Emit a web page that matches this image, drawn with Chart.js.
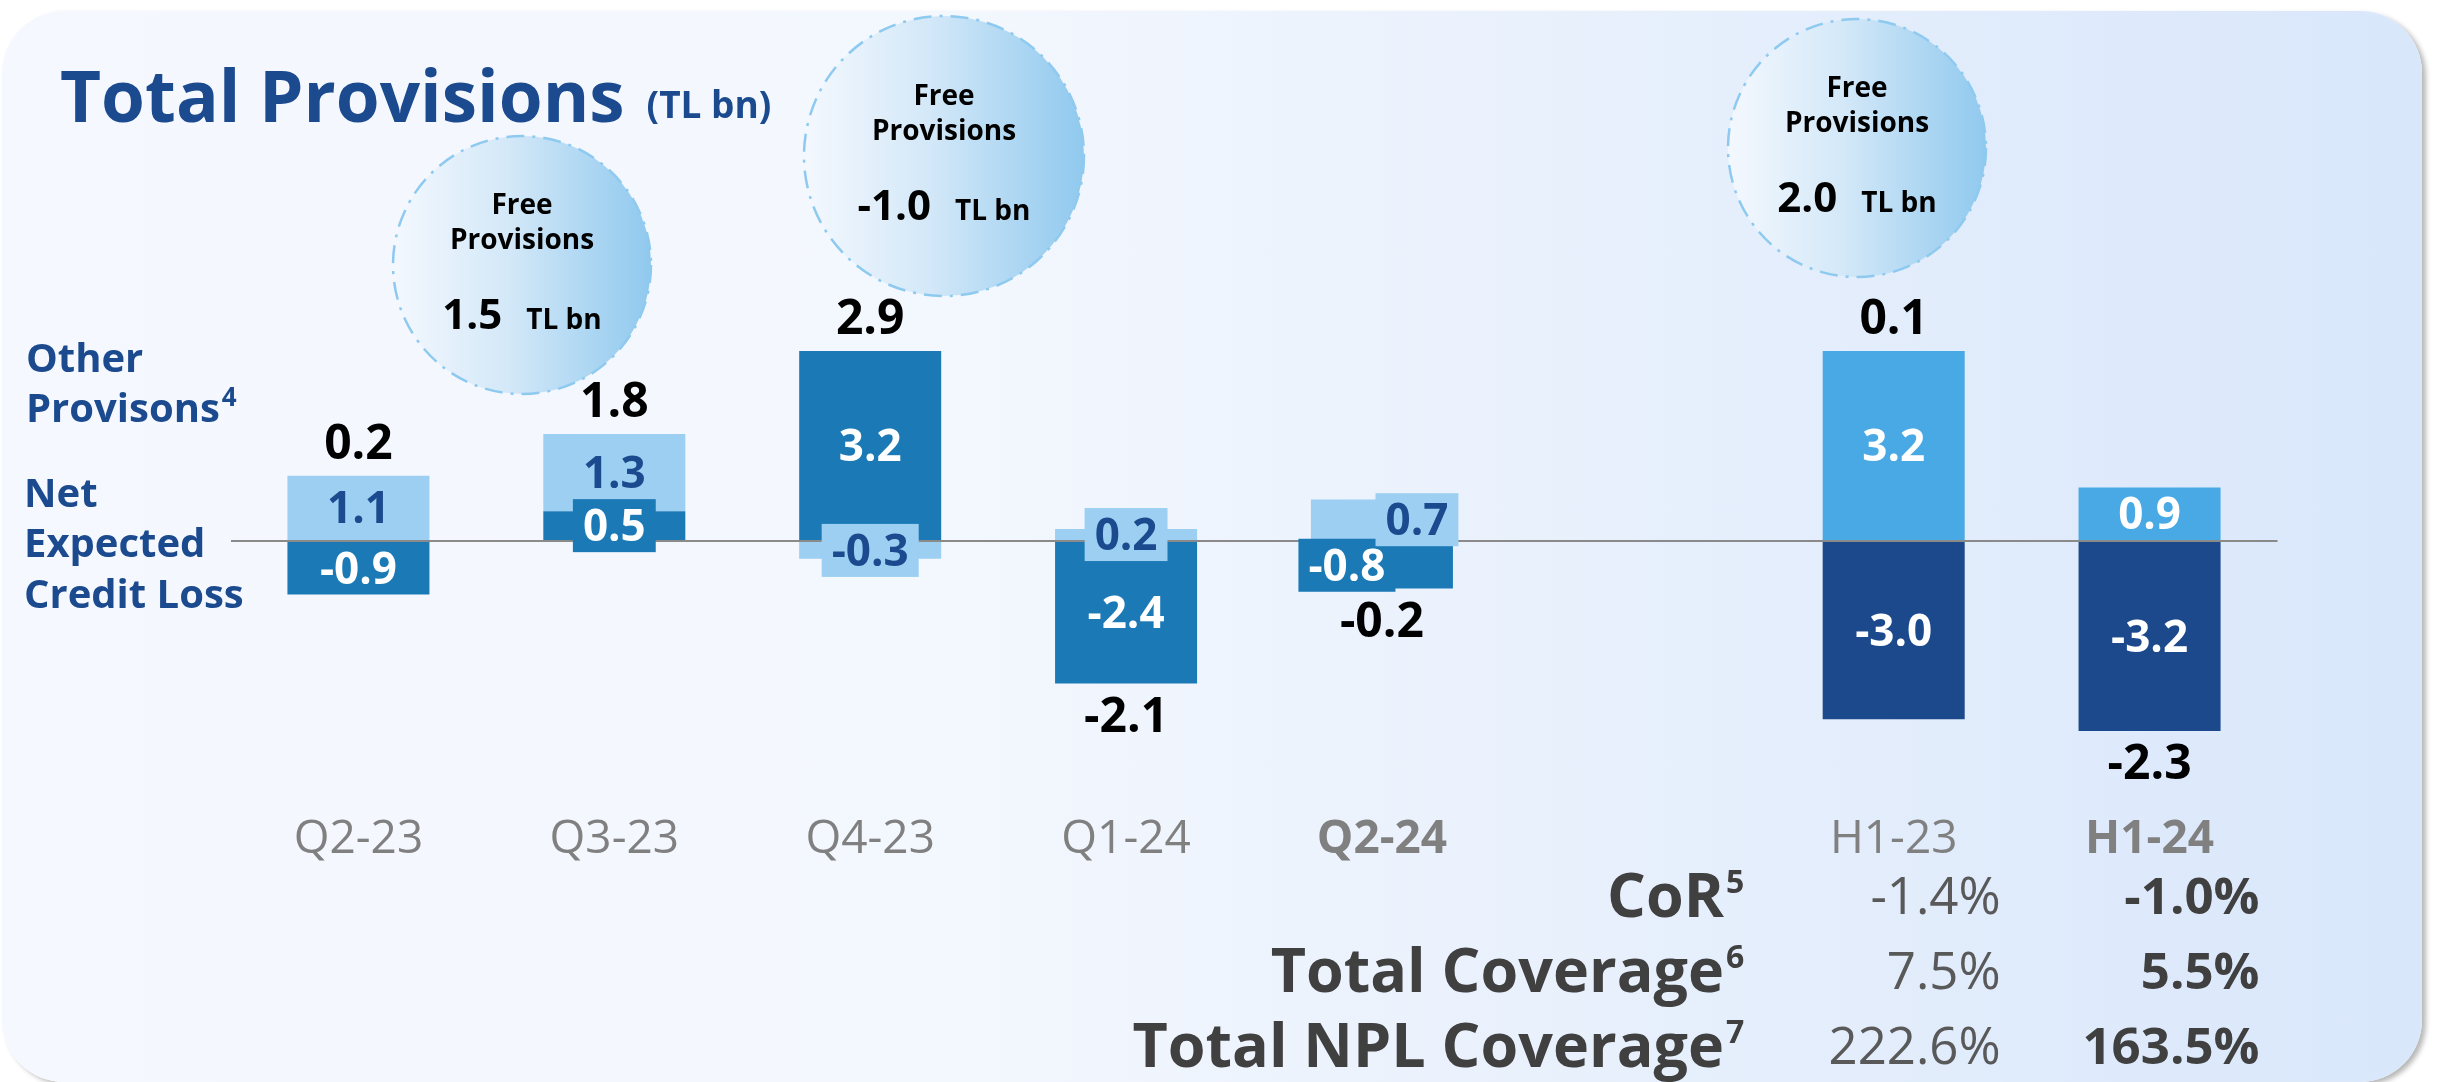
<!DOCTYPE html>
<html><head><meta charset="utf-8">
<script src="https://cdn.jsdelivr.net/npm/chart.js@4.4.1/dist/chart.umd.min.js"></script>
<style>
html,body{margin:0;padding:0;background:#ffffff;width:2460px;height:1082px;overflow:hidden;}
#panel{position:absolute;left:2px;top:11px;width:2420px;height:1071px;border-radius:62px;
 background:linear-gradient(90deg,#f5f8fe 0%,#f3f7fe 40%,#e6effc 70%,#d9e7fb 100%);
 box-shadow:4px 3px 5px rgba(0,0,0,0.28);}
#c{position:absolute;left:0;top:0;}
</style></head><body>
<div id="panel"></div>
<canvas id="c" width="2460" height="1082"></canvas>
<script>
// ---- data ----
const categories = ['Q2-23','Q3-23','Q4-23','Q1-24','Q2-24','','H1-23','H1-24'];
const netECL     = [-0.9, 0.5, 3.2, -2.4, -0.8, null, -3.0, -3.2];
const otherProv  = [ 1.1, 1.3, -0.3, 0.2,  0.7, null,  3.2,  0.9];
const totals     = [ 0.2, 1.8, 2.9, -2.1, -0.2, null,  0.1, -2.3];
const freeProvValues = ['1.5', '-1.0', '2.0'];
const ratioNames = ['CoR', 'Total Coverage', 'Total NPL Coverage'];
const ratioNotes = ['5', '6', '7'];
const ratioH123  = ['-1.4%', '7.5%', '222.6%'];
const ratioH124  = ['-1.0%', '5.5%', '163.5%'];

const FONT = '"Open Sans", "Noto Sans", sans-serif';
const NAVY = '#1b4a8e';

// bubble decoration placement (style)
const bubbleStyle = [
  {cx: 522, cy: 265, r: 129},
  {cx: 944, cy: 156, r: 140},
  {cx: 1857, cy: 148, r: 129}
];

function drawSup(ctx, text, sup, x, y, size, supSize, supRise, align) {
  ctx.font = 'bold ' + size + 'px ' + FONT;
  const w = ctx.measureText(text).width;
  let x0 = align === 'right' ? x - w : x;
  ctx.textAlign = 'left';
  ctx.fillText(text, x0, y);
  ctx.font = 'bold ' + supSize + 'px ' + FONT;
  ctx.fillText(sup, x0 + w + 2, y - supRise);
}

const decor = {
  id: 'decor',
  beforeDraw(chart) {
    const ctx = chart.ctx;
    ctx.save();
    // bubbles
    bubbleStyle.forEach((b, i) => {
      const g = ctx.createLinearGradient(b.cx - b.r, 0, b.cx + b.r, 0);
      g.addColorStop(0, '#f4f8fe');
      g.addColorStop(0.45, '#d3e8f8');
      g.addColorStop(1, '#90c9ee');
      ctx.beginPath();
      ctx.arc(b.cx, b.cy, b.r, 0, Math.PI * 2);
      ctx.fillStyle = g;
      ctx.fill();
      ctx.setLineDash([18, 8, 3, 8]);
      ctx.lineWidth = 2.5;
      ctx.strokeStyle = '#8ecaf0';
      ctx.stroke();
      ctx.setLineDash([]);
      ctx.fillStyle = '#000';
      ctx.textAlign = 'center';
      ctx.textBaseline = 'alphabetic';
      ctx.font = 'bold 28px ' + FONT;
      ctx.fillText('Free', b.cx, b.cy - 51);
      ctx.fillText('Provisions', b.cx, b.cy - 16);
      ctx.font = 'bold 42px ' + FONT;
      const v = freeProvValues[i];
      const w1 = ctx.measureText(v).width;
      ctx.font = 'bold 28px ' + FONT;
      const w2 = ctx.measureText('TL bn').width;
      const start = b.cx - (w1 + 24 + w2) / 2;
      ctx.textAlign = 'left';
      ctx.font = 'bold 42px ' + FONT;
      ctx.fillText(v, start, b.cy + 64);
      ctx.font = 'bold 28px ' + FONT;
      ctx.fillText('TL bn', start + w1 + 24, b.cy + 64);
    });
    // title
    ctx.fillStyle = NAVY;
    ctx.textAlign = 'left';
    ctx.font = 'bold 71px ' + FONT;
    ctx.fillText('Total Provisions', 60, 122);
    const tw = ctx.measureText('Total Provisions').width;
    ctx.font = 'bold 37px ' + FONT;
    ctx.fillText('(TL bn)', 60 + tw + 22, 118);
    // legend labels
    ctx.font = 'bold 40px ' + FONT;
    ctx.fillText('Other', 26, 372);
    drawSup(ctx, 'Provisons', '4', 26, 422, 40, 26, 16, 'left');
    ctx.font = 'bold 40px ' + FONT;
    ctx.fillText('Net', 24, 507);
    ctx.fillText('Expected', 24, 557);
    ctx.fillText('Credit Loss', 24, 608);
    ctx.restore();
  },
  afterDraw(chart) {
    const ctx = chart.ctx;
    const xs = chart.scales.x, ys = chart.scales.y;
    const dsets = chart.data.datasets;
    ctx.save();
    ctx.textAlign = 'center';
    ctx.textBaseline = 'alphabetic';
    // segment labels
    dsets.forEach((ds, di) => {
      const meta = chart.getDatasetMeta(di);
      meta.data.forEach((bar, i) => {
        const v = ds.data[i];
        if (v == null) return;
        const p = bar.getProps(['x', 'y', 'base'], true);
        const cy = (p.y + p.base) / 2;
        let cx = p.x;
        const small = Math.abs(v) < 0.85;
        const ov = dsets[1 - di].data[i];
        if (small && ov != null && Math.abs(ov) < 0.85) cx += di === 0 ? -35 : 35;
        const txt = v.toFixed(1);
        ctx.font = 'bold 44px ' + FONT;
        if (small) {
          const w = ctx.measureText(txt).width + 20;
          ctx.fillStyle = bar.options.backgroundColor;
          ctx.fillRect(cx - w / 2, cy - 26.5, w, 53);
        }
        const light = di === 1 && i < 6;
        ctx.fillStyle = light ? NAVY : '#ffffff';
        ctx.textAlign = 'center';
        ctx.fillText(txt, cx, cy + 15.5);
      });
    });
    // totals
    ctx.fillStyle = '#000';
    ctx.font = 'bold 48px ' + FONT;
    ctx.textAlign = 'center';
    totals.forEach((t, i) => {
      if (t == null) return;
      let pos = 0, neg = 0;
      dsets.forEach(ds => { const v = ds.data[i]; if (v > 0) pos += v; else if (v < 0) neg += v; });
      const x = xs.getPixelForValue(i);
      if (t >= 0) ctx.fillText(t.toFixed(1), x, ys.getPixelForValue(pos) - 17);
      else ctx.fillText(t.toFixed(1), x, ys.getPixelForValue(neg) + 48);
    });
    // ratio table
    const baseY = [917, 992, 1067];
    const c1 = xs.getPixelForValue(6) + 107;
    const c2 = xs.getPixelForValue(7) + 110;
    ratioNames.forEach((n, r) => {
      ctx.fillStyle = '#404040';
      drawSup(ctx, n, ratioNotes[r], 1724, baseY[r], 61, 32, 24, 'right');
      ctx.textAlign = 'right';
      ctx.font = '51px ' + FONT;
      ctx.fillStyle = '#595959';
      ctx.fillText(ratioH123[r], c1, baseY[r] - 3);
      ctx.font = 'bold 51px ' + FONT;
      ctx.fillStyle = '#404040';
      ctx.fillText(ratioH124[r], c2, baseY[r] - 3);
    });
    ctx.restore();
  }
};

new Chart(document.getElementById('c'), {
  type: 'bar',
  data: {
    labels: categories,
    datasets: [
      { label: 'Net Expected Credit Loss', data: netECL,
        backgroundColor: c => c.dataIndex >= 6 ? '#1b498c' : '#1b7ab6' },
      { label: 'Other Provisions', data: otherProv,
        backgroundColor: c => c.dataIndex >= 6 ? '#49a9e5' : '#9ccff1' }
    ]
  },
  options: {
    responsive: false,
    animation: false,
    devicePixelRatio: 1,
    layout: { padding: { left: 230.5, right: 182.5, top: 273.7, bottom: 210.5 } },
    datasets: { bar: { barPercentage: 0.555, categoryPercentage: 1, borderWidth: 0 } },
    plugins: { legend: { display: false }, tooltip: { enabled: false } },
    scales: {
      x: {
        stacked: true,
        grid: { display: false, drawTicks: false },
        border: { display: false },
        ticks: {
          padding: 4,
          color: '#808080',
          font: c => ({ family: FONT, size: 46, weight: (c.index === 4 || c.index === 7) ? 'bold' : 'normal' })
        }
      },
      y: {
        stacked: true, min: -4.5, max: 4.5, z: 1,
        ticks: { display: false, stepSize: 0.5 },
        grid: { drawTicks: false, lineWidth: 2,
          color: c => (c.tick && c.tick.value === 0) ? '#8a8a8a' : 'rgba(0,0,0,0)' },
        border: { display: false }
      }
    }
  },
  plugins: [decor]
});
</script>
</body></html>
